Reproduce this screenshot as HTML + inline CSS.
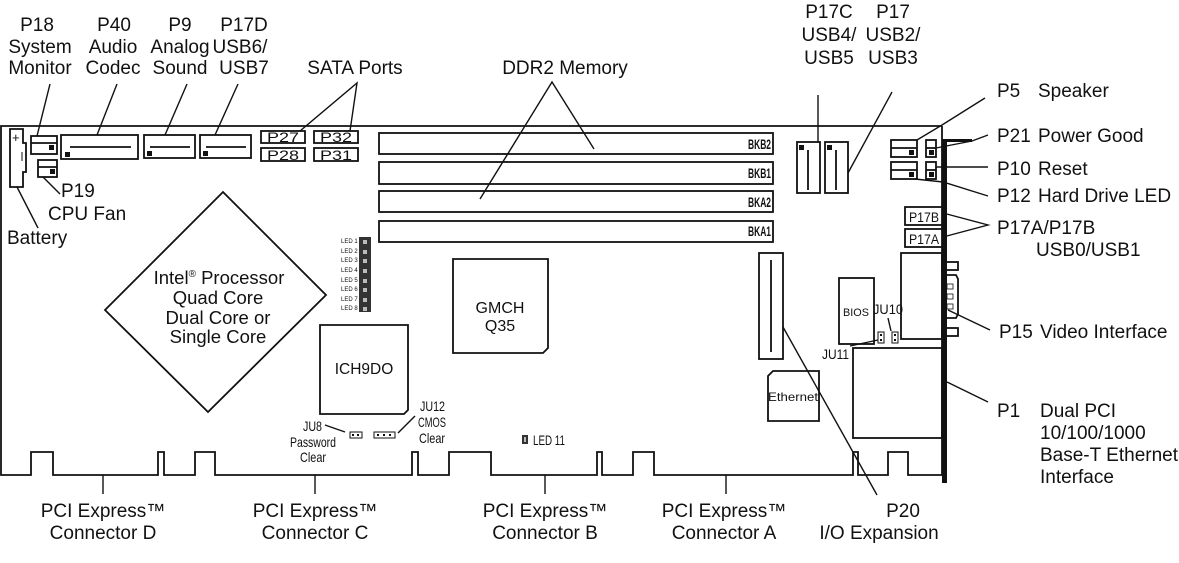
<!DOCTYPE html>
<html><head><meta charset="utf-8"><style>
html,body{margin:0;padding:0;background:#fff;}
svg{display:block;}
text{font-family:"Liberation Sans",sans-serif;fill:#111;}
.L{font-size:19px;}
.c{text-anchor:middle;}
</style></head><body>
<svg width="1179" height="563" viewBox="0 0 1179 563" xmlns="http://www.w3.org/2000/svg">
<g fill="none" stroke="#111" stroke-width="1.8">
<path d="M942,126 H1 V475 H31 V452 H53 V475 H158 V452 H164 V475 H195 V452 H215 V475 H412 V452 H418 V475 H449 V452 H491 V475 H597 V452 H602 V475 H633 V452 H654 V475 H853 V452 H858 V475 H888 V452 H908 V475 H942 V126"/>
<path d="M10,129 H23 V143 H26 V172 H23 V187 H10 Z"/>
<rect x="31" y="136" width="26" height="18"/><line x1="31" y1="143" x2="57" y2="143"/>
<rect x="38" y="160" width="19" height="17"/><line x1="38" y1="167" x2="57" y2="167"/>
<rect x="61" y="135" width="77" height="24"/><line x1="70" y1="147" x2="131" y2="147"/>
<rect x="144" y="135" width="51" height="23"/><line x1="150" y1="147" x2="190" y2="147"/>
<rect x="200" y="135" width="51" height="23"/><line x1="206" y1="147" x2="246" y2="147"/>
<rect x="261" y="131" width="44" height="12"/><rect x="261" y="148" width="44" height="13"/>
<rect x="314" y="131" width="44" height="12"/><rect x="314" y="148" width="44" height="13"/>
<rect x="379" y="133" width="394" height="21"/>
<rect x="379" y="162" width="394" height="22"/>
<rect x="379" y="191" width="394" height="21"/>
<rect x="379" y="221" width="394" height="21"/>
<path d="M223,192 L326,295 L208,412 L105,310 Z"/>
<path d="M453,259 H548 V348 L543,353 H453 Z"/>
<path d="M320,325 H408 V410 L404,414 H320 Z"/>
<rect x="797" y="142" width="23" height="51"/><line x1="808" y1="150" x2="808" y2="190"/>
<rect x="825" y="142" width="23" height="51"/><line x1="836" y1="150" x2="836" y2="190"/>
<rect x="891" y="140" width="26" height="17"/><line x1="891" y1="148" x2="917" y2="148"/>
<rect x="891" y="162" width="26" height="17"/><line x1="891" y1="170" x2="917" y2="170"/>
<rect x="926" y="140" width="10" height="17"/><line x1="926" y1="148" x2="936" y2="148"/>
<rect x="926" y="162" width="10" height="17"/><line x1="926" y1="170" x2="936" y2="170"/>
<rect x="905" y="207" width="38" height="18"/><rect x="905" y="229" width="38" height="18"/>
<rect x="901" y="253" width="41" height="86"/>
<rect x="942" y="262" width="16" height="8"/><rect x="942" y="328" width="16" height="8"/>
<path d="M944,275 H956 L958,279 V314 L956,318 H944"/>
<rect x="839" y="278" width="35" height="66"/>
<rect x="853" y="348" width="89" height="90"/>
<rect x="759" y="253" width="24" height="106"/><line x1="771" y1="260" x2="771" y2="352"/>
<path d="M773,371 H819 V421 H768 V376 Z"/>
<g stroke-width="1.4">
<line x1="50" y1="84" x2="37" y2="136"/>
<line x1="117" y1="84" x2="97" y2="135"/>
<line x1="187" y1="84" x2="165" y2="135"/>
<line x1="238" y1="84" x2="215" y2="135"/>
<polyline points="300,131 357,83 350,131"/>
<polyline points="480,199 552,82 594,149"/>
<line x1="818" y1="95" x2="818" y2="142"/>
<line x1="892" y1="92" x2="848" y2="173"/>
<line x1="43" y1="177" x2="60" y2="194"/>
<line x1="17" y1="187" x2="38" y2="228"/>
<polyline points="917,140 942,125 985,98"/>
<polyline points="936,148 972,141 988,135"/>
<line x1="936" y1="167" x2="988" y2="167"/>
<polyline points="915,179 943,182 988,196"/>
<polyline points="943,213 988,225 943,237"/>
<line x1="948" y1="310" x2="990" y2="330"/>
<line x1="947" y1="382" x2="988" y2="402"/>
<line x1="783" y1="327" x2="877" y2="495"/>
<line x1="325" y1="425" x2="345" y2="432"/>
<line x1="415" y1="416" x2="398" y2="433"/>
<line x1="888" y1="318" x2="891" y2="331"/>
<line x1="850" y1="346" x2="878" y2="340"/>
<line x1="103" y1="475" x2="103" y2="494"/>
<line x1="315" y1="475" x2="315" y2="494"/>
<line x1="545" y1="475" x2="545" y2="494"/>
<line x1="726" y1="475" x2="726" y2="494"/>
</g>
<rect x="350" y="432" width="12" height="6" stroke-width="1"/>
<rect x="374" y="432" width="21" height="6" stroke-width="1"/>
<rect x="878" y="332" width="6" height="11" stroke-width="1"/>
<rect x="892" y="332" width="6" height="11" stroke-width="1"/>
</g>
<g fill="#111">
<rect x="942" y="140" width="5" height="343"/>
<rect x="942" y="139" width="30" height="3"/>
<rect x="49" y="145" width="5" height="5"/><rect x="50" y="169" width="5" height="5"/>
<rect x="65" y="152" width="5" height="5"/><rect x="147" y="151" width="5" height="5"/><rect x="203" y="151" width="5" height="5"/>
<rect x="799" y="145" width="5" height="5"/><rect x="827" y="145" width="5" height="5"/>
<rect x="909" y="150" width="5" height="5"/><rect x="909" y="172" width="5" height="5"/>
<rect x="929" y="150" width="5" height="5"/><rect x="929" y="172" width="5" height="5"/>
<rect x="359" y="237" width="12" height="75" fill="#333"/>
<rect x="522" y="435" width="6" height="9" fill="#333"/>
<rect x="352" y="434" width="2" height="2"/><rect x="357" y="434" width="2" height="2"/>
<rect x="377" y="434" width="2" height="2"/><rect x="383" y="434" width="2" height="2"/><rect x="389" y="434" width="2" height="2"/>
<rect x="880" y="334" width="2" height="2"/><rect x="880" y="339" width="2" height="2"/>
<rect x="894" y="334" width="2" height="2"/><rect x="894" y="339" width="2" height="2"/>
</g>
<g fill="#bbb">
<rect x="363" y="240" width="4" height="4"/><rect x="363" y="250" width="4" height="4"/><rect x="363" y="259" width="4" height="4"/><rect x="363" y="269" width="4" height="4"/><rect x="363" y="279" width="4" height="4"/><rect x="363" y="288" width="4" height="4"/><rect x="363" y="298" width="4" height="4"/><rect x="363" y="307" width="4" height="4"/>
<rect x="524" y="437" width="2" height="5"/>
</g>
<g fill="none" stroke="#111" stroke-width="0.8">
<rect x="947" y="284" width="6" height="5"/><rect x="947" y="294" width="6" height="5"/><rect x="947" y="304" width="6" height="5"/>
</g>
<text x="12" y="142" font-size="13">+</text>
<line x1="22" y1="152" x2="22" y2="161" stroke="#111" stroke-width="1"/>
<g class="L c">
<text x="37" y="31">P18</text><text x="40" y="53">System</text><text x="40" y="74">Monitor</text>
<text x="114" y="31">P40</text><text x="113" y="53">Audio</text><text x="113" y="74">Codec</text>
<text x="180" y="31">P9</text><text x="180" y="53">Analog</text><text x="180" y="74">Sound</text>
<text x="244" y="31">P17D</text><text x="240" y="53">USB6/</text><text x="244" y="74">USB7</text>
<text x="355" y="74">SATA Ports</text>
<text x="565" y="74">DDR2 Memory</text>
<text x="829" y="18">P17C</text><text x="829" y="41">USB4/</text><text x="829" y="64">USB5</text>
<text x="893" y="18">P17</text><text x="893" y="41">USB2/</text><text x="893" y="64">USB3</text>
</g>
<g class="L">
<text x="61" y="197">P19</text><text x="48" y="220">CPU Fan</text><text x="7" y="244">Battery</text>
<text x="997" y="97">P5</text><text x="1038" y="97">Speaker</text>
<text x="997" y="142">P21</text><text x="1038" y="142">Power Good</text>
<text x="997" y="175">P10</text><text x="1038" y="175">Reset</text>
<text x="997" y="202">P12</text><text x="1038" y="202">Hard Drive LED</text>
<text x="997" y="234">P17A/P17B</text><text x="1036" y="256">USB0/USB1</text>
<text x="999" y="338">P15</text><text x="1040" y="338">Video Interface</text>
<text x="997" y="417">P1</text><text x="1040" y="417">Dual PCI</text><text x="1040" y="439">10/100/1000</text><text x="1040" y="461">Base-T Ethernet</text><text x="1040" y="483">Interface</text>
</g>
<g class="L c">
<text x="103" y="517">PCI Express™</text><text x="103" y="539">Connector D</text>
<text x="315" y="517">PCI Express™</text><text x="315" y="539">Connector C</text>
<text x="545" y="517">PCI Express™</text><text x="545" y="539">Connector B</text>
<text x="724" y="517">PCI Express™</text><text x="724" y="539">Connector A</text>
<text x="903" y="517">P20</text><text x="879" y="539">I/O Expansion</text>
</g>
<g class="c" font-size="18.5">
<text x="219" y="284">Intel<tspan font-size="10" dy="-7">®</tspan><tspan dy="7"> Processor</tspan></text>
<text x="218" y="304">Quad Core</text><text x="218" y="324">Dual Core or</text><text x="218" y="343">Single Core</text>
<text x="500" y="313" font-size="16">GMCH</text><text x="500" y="331" font-size="16">Q35</text>
<text x="364" y="374" font-size="15.5">ICH9DO</text>
</g>
<text x="768" y="401" font-size="12" textLength="50" lengthAdjust="spacingAndGlyphs">Ethernet</text>
<text x="843" y="316" font-size="11" textLength="26" lengthAdjust="spacingAndGlyphs">BIOS</text>
<g font-size="14" font-weight="bold">
<text x="748" y="149" textLength="23" lengthAdjust="spacingAndGlyphs">BKB2</text>
<text x="748" y="178" textLength="23" lengthAdjust="spacingAndGlyphs">BKB1</text>
<text x="748" y="207" textLength="23" lengthAdjust="spacingAndGlyphs">BKA2</text>
<text x="748" y="236" textLength="23" lengthAdjust="spacingAndGlyphs">BKA1</text>
</g>
<g font-size="14">
<text x="267" y="142" textLength="32" lengthAdjust="spacingAndGlyphs">P27</text><text x="267" y="160" textLength="32" lengthAdjust="spacingAndGlyphs">P28</text>
<text x="320" y="142" textLength="32" lengthAdjust="spacingAndGlyphs">P32</text><text x="320" y="160" textLength="32" lengthAdjust="spacingAndGlyphs">P31</text>
<text x="909" y="222" textLength="30" lengthAdjust="spacingAndGlyphs">P17B</text><text x="909" y="244" textLength="30" lengthAdjust="spacingAndGlyphs">P17A</text>
<text x="873" y="314" textLength="30" lengthAdjust="spacingAndGlyphs">JU10</text><text x="822" y="359" textLength="27" lengthAdjust="spacingAndGlyphs">JU11</text>
<text x="303" y="431" textLength="19" lengthAdjust="spacingAndGlyphs">JU8</text>
<text x="290" y="447" textLength="46" lengthAdjust="spacingAndGlyphs">Password</text><text x="300" y="462" textLength="26" lengthAdjust="spacingAndGlyphs">Clear</text>
<text x="420" y="411" textLength="25" lengthAdjust="spacingAndGlyphs">JU12</text><text x="418" y="427" textLength="28" lengthAdjust="spacingAndGlyphs">CMOS</text><text x="419" y="443" textLength="26" lengthAdjust="spacingAndGlyphs">Clear</text>
<text x="533" y="445" textLength="32" lengthAdjust="spacingAndGlyphs" fill="#444">LED 11</text>
</g>
<g font-size="6" fill="#333">
<text x="341" y="243">LED 1</text><text x="341" y="253">LED 2</text><text x="341" y="262">LED 3</text><text x="341" y="272">LED 4</text><text x="341" y="282">LED 5</text><text x="341" y="291">LED 6</text><text x="341" y="301">LED 7</text><text x="341" y="310">LED 8</text>
</g>
</svg>
</body></html>
